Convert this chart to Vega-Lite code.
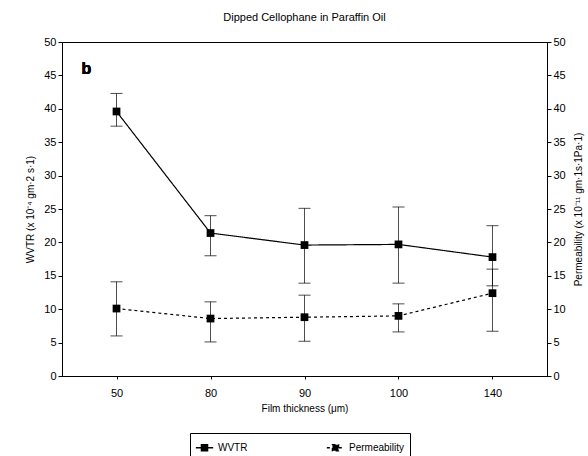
{
  "$schema": "https://vega.github.io/schema/vega-lite/v6.json",
  "autosize": "none",
  "width": 485,
  "height": 334,
  "padding": {"left": 62, "top": 42, "right": 41, "bottom": 80},
  "background": "white",
  "title": {"text": "Dipped Cellophane in Paraffin Oil", "fontSize": 11, "font": "Liberation Sans", "fontWeight": "normal", "offset": 13, "color": "black"},
  "config": {
    "font": "Liberation Sans",
    "view": {"stroke": "black", "strokeWidth": 1},
    "axis": {"labelFont": "Liberation Sans", "titleFont": "Liberation Sans", "labelColor": "black", "titleColor": "black", "domainColor": "black", "tickColor": "black", "labelFontSize": 11, "titleFontSize": 10, "titleFontWeight": "normal", "grid": false, "labelOverlap": false},
    "axisY": {"values": [0,5,10,15,20,25,30,35,40,45,50], "tickSize": 4, "titlePadding": 8}
  },
  "data": {"values": [
    {"thickness": "50", "series": "WVTR", "value": 39.6, "lo": 37.4, "hi": 42.3},
    {"thickness": "80", "series": "WVTR", "value": 21.4, "lo": 18.0, "hi": 24.0},
    {"thickness": "90", "series": "WVTR", "value": 19.6, "lo": 13.9, "hi": 25.1},
    {"thickness": "100", "series": "WVTR", "value": 19.7, "lo": 13.9, "hi": 25.3},
    {"thickness": "140", "series": "WVTR", "value": 17.8, "lo": 13.5, "hi": 22.5},
    {"thickness": "50", "series": "Permeability", "value": 10.1, "lo": 6.0, "hi": 14.1},
    {"thickness": "80", "series": "Permeability", "value": 8.6, "lo": 5.1, "hi": 11.1},
    {"thickness": "90", "series": "Permeability", "value": 8.8, "lo": 5.2, "hi": 12.1},
    {"thickness": "100", "series": "Permeability", "value": 9.0, "lo": 6.6, "hi": 10.8},
    {"thickness": "140", "series": "Permeability", "value": 12.4, "lo": 6.7, "hi": 16.0}
  ]},
  "encoding": {
    "x": {"field": "thickness", "type": "ordinal", "sort": ["50", "80", "90", "100", "140"],
      "scale": {"type": "point", "padding": 0.58},
      "axis": {"title": "Film thickness (μm)", "labelAngle": 0, "tickSize": 3, "labelPadding": 8, "titleFontSize": 10, "titlePadding": 5}}
  },
  "layer": [
    {
      "transform": [{"filter": "datum.series === 'WVTR'"}],
      "layer": [
        {"mark": {"type": "rule", "color": "black", "strokeWidth": 0.7},
          "encoding": {"y": {"field": "lo", "type": "quantitative", "scale": {"domain": [0, 50]}, "axis": {"title": "WVTR (x 10⁻⁴ gm·2 s·1)", "orient": "left"}}, "y2": {"field": "hi"}}},
        {"mark": {"type": "tick", "orient": "horizontal", "color": "black", "size": 12, "thickness": 1},
          "encoding": {"y": {"field": "lo", "type": "quantitative"}}},
        {"mark": {"type": "tick", "orient": "horizontal", "color": "black", "size": 12, "thickness": 1},
          "encoding": {"y": {"field": "hi", "type": "quantitative"}}},
        {"mark": {"type": "line", "color": "black", "strokeWidth": 1.2},
          "encoding": {"y": {"field": "value", "type": "quantitative"},
            "strokeDash": {"field": "series", "type": "nominal", "scale": {"domain": ["WVTR", "Permeability"], "range": [[1, 0], [3, 3]]},
              "legend": {"title": null, "orient": "none", "legendX": 128, "legendY": 391, "direction": "horizontal", "strokeColor": "black", "padding": 5, "columnPadding": 75, "labelFontSize": 10, "labelColor": "black", "symbolType": "M-1,0H1M-0.35,-0.35H0.35V0.35H-0.35Z", "symbolSize": 300, "symbolStrokeColor": "black", "symbolFillColor": "black", "symbolStrokeWidth": 1.5}}}},
        {"mark": {"type": "square", "color": "black", "size": 60, "opacity": 1},
          "encoding": {"y": {"field": "value", "type": "quantitative"}}}
      ]
    },
    {
      "transform": [{"filter": "datum.series === 'Permeability'"}],
      "layer": [
        {"mark": {"type": "rule", "color": "black", "strokeWidth": 0.7},
          "encoding": {"y": {"field": "lo", "type": "quantitative", "scale": {"domain": [0, 50]}, "axis": {"title": "Permeability (x 10⁻¹¹ gm·1s·1Pa·1)", "orient": "right", "titleAngle": 270, "titleBaseline": "top"}}, "y2": {"field": "hi"}}},
        {"mark": {"type": "tick", "orient": "horizontal", "color": "black", "size": 12, "thickness": 1},
          "encoding": {"y": {"field": "lo", "type": "quantitative"}}},
        {"mark": {"type": "tick", "orient": "horizontal", "color": "black", "size": 12, "thickness": 1},
          "encoding": {"y": {"field": "hi", "type": "quantitative"}}},
        {"mark": {"type": "line", "color": "black", "strokeWidth": 1.2},
          "encoding": {"y": {"field": "value", "type": "quantitative"},
            "strokeDash": {"field": "series", "type": "nominal", "scale": {"domain": ["WVTR", "Permeability"], "range": [[1, 0], [3, 3]]}}}},
        {"mark": {"type": "square", "color": "black", "size": 60, "opacity": 1},
          "encoding": {"y": {"field": "value", "type": "quantitative"}}},
        {"mark": {"type": "text", "text": "b", "fontSize": 16, "fontWeight": "bold", "color": "black", "dx": -30},
          "encoding": {"x": {"datum": "50"}, "y": {"datum": 46}}}
      ]
    }
  ],
  "resolve": {"scale": {"y": "independent"}}
}
